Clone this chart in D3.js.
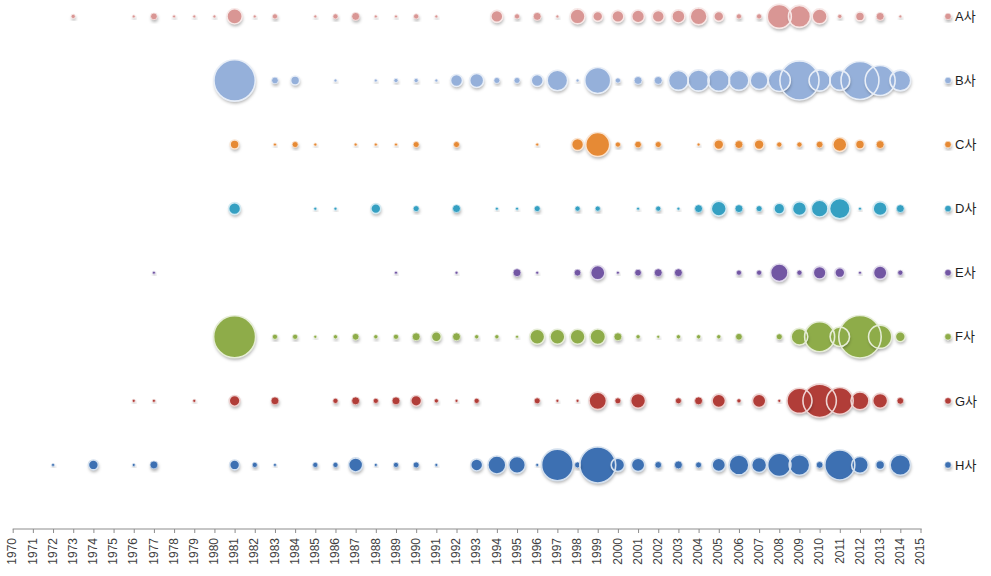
<!DOCTYPE html>
<html>
<head>
<meta charset="utf-8">
<script src="https://cdn.jsdelivr.net/npm/d3@7"></script>
<style>
  html, body { margin: 0; padding: 0; background: #fff; }
  svg { display: block; }
</style>
</head>
<body>
<svg id="chart" width="991" height="576"></svg>
<script>
// ---- data (index 0 = 1970 ... index 45 = 2015; 0 = no bubble) ----
const years = d3.range(1970, 2016);
const companies = ["A사", "B사", "C사", "D사", "E사", "F사", "G사", "H사"];
const colors = ["#d99694", "#95b0da", "#e68a35", "#35a0c2", "#7256a3", "#8eac48", "#b13c38", "#3d70b2"];

//            1970                          1980                          1990                          2000                          2010
const seriesA = [0,0,0,2,0,0,1,5,1,1, 1,26,1,3,0,1,3,7,1,1, 3,1,0,0,16,3,7,1,25,11, 16,18,16,19,32,11,3,3,64,54, 25,2,9,7,1,0];
const seriesB = [0,0,0,0,0,0,0,0,0,0, 0,190,0,5,9,0,1,0,1,2, 2,1,16,22,4,4,16,47,1,75, 3,7,7,44,50,52,44,36,54,170, 50,44,160,100,48,0];
const seriesC = [0,0,0,0,0,0,0,0,0,0, 0,9,0,1,4,1,0,1,1,1, 4,0,4,0,0,0,1,0,16,64, 3,5,4,0,1,11,7,11,3,3, 5,22,9,7,0,0];
const seriesD = [0,0,0,0,0,0,0,0,0,0, 0,16,0,0,0,1,1,0,11,0, 4,0,7,0,1,1,4,0,3,3, 0,1,3,1,7,25,7,4,13,22, 31,47,1,22,7,0];
const seriesE = [0,0,0,0,0,0,0,1,0,0, 0,0,0,0,0,0,0,0,0,1, 0,0,1,0,0,7,1,0,5,23, 1,5,7,7,0,0,3,3,34,3, 18,11,1,20,3,0];
const seriesF = [0,0,0,0,0,0,0,0,0,0, 0,196,0,3,3,1,2,5,2,3, 7,11,7,2,2,1,25,25,25,27, 7,2,1,2,2,2,5,0,4,31, 100,42,200,60,11,0];
const seriesG = [0,0,0,0,0,0,1,1,0,1, 0,13,0,7,0,0,3,7,3,7, 13,2,1,3,0,0,4,1,1,34, 4,25,0,4,7,20,2,20,1,70, 124,79,36,25,5,0];
const seriesH = [0,0,1,0,11,0,1,7,0,0, 0,11,3,1,0,3,3,22,1,3, 4,1,0,16,36,31,1,111,4,144, 20,20,5,7,4,20,44,25,60,47, 5,100,31,9,47,0];
const allSeries = [seriesA, seriesB, seriesC, seriesD, seriesE, seriesF, seriesG, seriesH];
const tickLabels = years.map(String);

// ---- layout ----
const svg = d3.select("#chart");
const x = d3.scaleLinear().domain([1970, 2015]).range([12.7, 920.5]);
const y = d3.scaleLinear().domain([0, 8]).range([529, 16.4]); // H = 1 ... A = 8
const r = d3.scaleSqrt().domain([0, 196]).range([0, 21]);

const defs = svg.append("defs");
const f = defs.append("filter").attr("id", "shadow")
  .attr("x", "-50%").attr("y", "-50%").attr("width", "200%").attr("height", "200%");
f.append("feDropShadow").attr("dx", 0.6).attr("dy", 2.2).attr("stdDeviation", 1.4)
  .attr("flood-color", "#000").attr("flood-opacity", 0.3);

const bubbles = [];
allSeries.forEach((vals, si) => {
  vals.forEach((v, i) => {
    if (v > 0) bubbles.push({ s: si, year: years[i], v: v, level: 8 - si });
  });
});
bubbles.sort((a, b) => b.v - a.v);

const pale = i => d3.interpolateRgb(colors[i], "#ffffff")(0.78);

// fills with shadow
svg.append("g").selectAll("circle").data(bubbles).join("circle")
  .attr("cx", d => x(d.year))
  .attr("cy", d => y(d.level))
  .attr("r", d => r(d.v))
  .attr("fill", d => colors[d.s])
  .attr("filter", "url(#shadow)");

// outlines on top of all fills (overlaps show both rims)
svg.append("g").selectAll("circle").data(bubbles).join("circle")
  .attr("cx", d => x(d.year))
  .attr("cy", d => y(d.level))
  .attr("r", d => r(d.v))
  .attr("fill", "none")
  .attr("stroke", d => pale(d.s))
  .attr("stroke-width", d => r(d.v) > 4 ? 1.6 : 0.8);

// x axis
const axis = d3.axisBottom(x)
  .tickValues(years)
  .tickFormat((d, i) => tickLabels[i])
  .tickSize(4)
  .tickSizeOuter(0);
const gx = svg.append("g").attr("transform", "translate(0,529)").call(axis);
gx.select(".domain").attr("stroke", "#8c8c8c").attr("d", "M12.7,0H921.7");
gx.selectAll(".tick line").attr("stroke", "#8c8c8c");
gx.selectAll(".tick text")
  .attr("transform", "rotate(-90)")
  .attr("text-anchor", "end")
  .attr("x", -9)
  .attr("y", -1)
  .attr("dy", "0.35em")
  .attr("fill", "#404040")
  .style("font-family", "'Liberation Sans', Arial, sans-serif")
  .style("font-size", "12px");

// legend
const lg = svg.append("g").selectAll("g").data(companies).join("g")
  .attr("transform", (d, i) => `translate(948, ${y(8 - i)})`);
lg.append("circle").attr("r", 3.2)
  .attr("fill", (d, i) => colors[i])
  .attr("stroke", (d, i) => pale(i)).attr("stroke-width", 0.6)
  .attr("filter", "url(#shadow)");
lg.append("text").attr("x", 7).attr("dy", "0.36em")
  .attr("fill", "#1e1e1e")
  .style("font-family", "'Liberation Sans', 'Noto Sans CJK KR', sans-serif")
  .style("font-size", "13px")
  .text(d => d);
</script>
</body>
</html>
